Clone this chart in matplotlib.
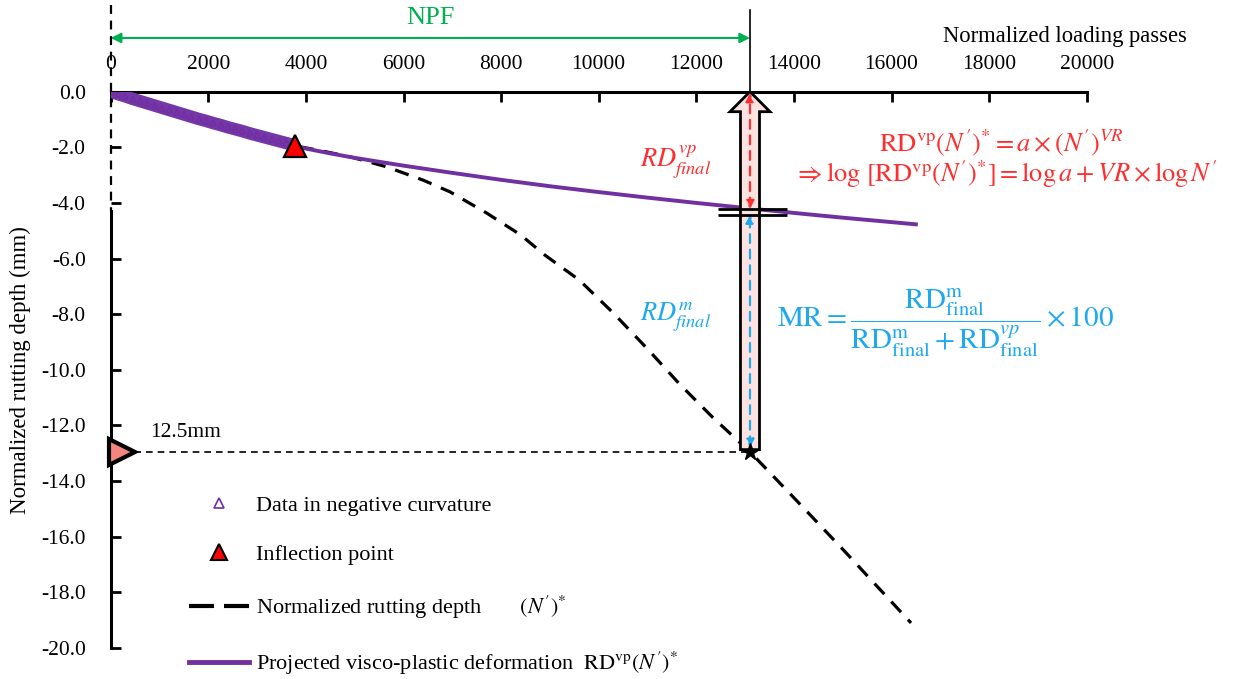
import matplotlib
matplotlib.use('Agg')
import matplotlib.pyplot as plt
import matplotlib.transforms as mtransforms
from matplotlib.patches import FancyArrow
from matplotlib.lines import Line2D
import numpy as np

plt.rcParams['font.family'] = ['Liberation Serif', 'DejaVu Serif']
plt.rcParams['mathtext.fontset'] = 'stix'

# data in negative curvature (normalized passes, rutting depth mm)
data_n = [0, 150, 300, 450, 600, 750, 900, 1050, 1200, 1350, 1500, 1650, 1800,
          1950, 2100, 2250, 2400, 2550, 2700, 2850, 3000, 3150, 3300, 3450, 3600, 3750]
data_rd = [0.00, -0.09, -0.17, -0.26, -0.34, -0.42, -0.50, -0.58, -0.66, -0.74,
           -0.82, -0.90, -0.98, -1.05, -1.13, -1.20, -1.28, -1.35, -1.42, -1.50,
           -1.57, -1.64, -1.71, -1.78, -1.85, -1.92]

# inflection point
infl_n = 3780
infl_rd = -1.95

# normalized rutting depth curve
rut_n = [0, 1000, 2000, 3000, 3780, 4300, 4900, 5650, 6400, 6950, 7700, 8400,
         8900, 9600, 10300, 11000, 11650, 12330, 13100, 14000, 15000, 16400]
rut_rd = [0.00, -0.55, -1.08, -1.57, -1.95, -2.12, -2.34, -2.70, -3.18, -3.60,
          -4.36, -5.15, -5.88, -6.77, -7.96, -9.25, -10.50, -11.70, -12.95,
          -14.60, -16.45, -19.10]

# projected visco-plastic deformation
vp_n = [3780, 4500, 5000, 6000, 7000, 8000, 9000, 10000, 11000, 12000, 13100,
        14000, 15000, 16500]
vp_rd = [-1.97, -2.22, -2.38, -2.66, -2.92, -3.17, -3.40, -3.61, -3.81, -4.00,
         -4.20, -4.36, -4.53, -4.77]

npf = 13100
rd_fail = -12.95
rd_vp_final = -4.22

purple = '#7030a0'
red = '#ff2d2d'
blue = '#1ea8f0'
green = '#00b050'

fig = plt.figure(figsize=(12.36, 6.79), dpi=100)
ax = fig.add_axes([0.0896, 0.0457, 0.7896, 0.8193])

ax.set_xlim(0, 20000)
ax.set_ylim(-20, 0)
ax.set_xticks(np.arange(0, 20001, 2000))
ax.set_yticks(np.arange(-20, 0.1, 2))
ax.yaxis.set_major_formatter(matplotlib.ticker.FormatStrFormatter('%.1f'))
ax.xaxis.tick_top()
ax.tick_params(axis='x', direction='in', length=7, width=2, pad=13, labelsize=15.5)
ax.tick_params(axis='y', direction='in', length=7, width=2, pad=18, labelsize=15.5)
for s in ['right', 'bottom']:
    ax.spines[s].set_visible(False)
ax.spines['top'].set_linewidth(2.2)
ax.spines['left'].set_linewidth(2.2)
ax.spines['left'].set_bounds(-20, -4.3)

ax.set_ylabel('Normalized rutting depth (mm)', fontsize=16.5)
ax.yaxis.set_label_coords(-0.082, 0.5)

# dashed line along the y axis, going above the plot
ax.plot([0, 0], [3.1, -4.3], color='black', lw=1.6, ls=(0, (4, 3)), clip_on=False, zorder=5)

# curves
ax.plot(rut_n, rut_rd, color='black', lw=2.3, dashes=(4.5, 3.2), zorder=2)
ax.plot(data_n, data_rd, color='#7436a8', lw=9, solid_capstyle='butt', zorder=3)
ax.plot(data_n, data_rd, ls='none', marker='^', ms=5, mfc='none', mec=purple, mew=1.2, zorder=3)
ax.plot(vp_n, vp_rd, color=purple, lw=2.8, zorder=3)
ax.plot(infl_n, infl_rd, marker='^', ms=16, mfc='red', mec='black', mew=1.6, zorder=6)

# failure level
ax.plot([0, npf], [rd_fail, rd_fail], color='black', lw=1.2, ls=(0, (4, 3)), zorder=3)
shifted = mtransforms.offset_copy(ax.transData, fig=fig, x=8, y=0, units='points')
ax.plot(0, rd_fail, marker='>', ms=19, mfc='#f4857f', mec='black', mew=3,
        transform=shifted, clip_on=False, zorder=7)
ax.text(800, -12.25, '12.5mm', fontsize=15.5, ha='left', va='center')

# block arrow
ax.add_patch(FancyArrow(npf, rd_fail + 0.08, 0, -rd_fail - 0.08, width=390, head_width=820,
                        head_length=0.72, length_includes_head=True, fc='#fde2e2',
                        ec='black', lw=2, zorder=4))
ax.annotate('', xy=(npf, -0.05), xytext=(npf, rd_vp_final),
            arrowprops=dict(arrowstyle='<|-|>', color=red, lw=1.6, ls=(0, (4, 3)),
                            mutation_scale=12, shrinkA=0, shrinkB=0), zorder=5)
ax.annotate('', xy=(npf, -4.42), xytext=(npf, rd_fail + 0.15),
            arrowprops=dict(arrowstyle='<|-|>', color=blue, lw=1.6, ls=(0, (4, 3)),
                            mutation_scale=12, shrinkA=0, shrinkB=0), zorder=5)
ax.hlines([rd_vp_final, -4.42], 12450, 13850, color='black', lw=2, zorder=6)
ax.plot(npf, rd_fail, marker='*', ms=13, color='black', zorder=7)

# labels near the arrow
ax.text(11580, -2.5, r'$RD^{vp}_{final}$', color=red, fontsize=19, ha='center', va='center')
ax.text(11580, -8.1, r'$RD^{m}_{final}$', color=blue, fontsize=19, ha='center', va='center')

ax.text(18250, -1.85, r"$\mathrm{RD}^{\mathrm{vp}}(N')^{*} = a \times (N')^{VR}$",
        color=red, fontsize=19, ha='center', va='center', clip_on=False)
ax.text(18350, -2.97, r"$\Rightarrow \log\,[\mathrm{RD}^{\mathrm{vp}}(N')^{*}] = \log a + VR \times \log N'$",
        color=red, fontsize=19, ha='center', va='center', clip_on=False)
ax.text(13650, -8.3,
        r"$\mathrm{MR} = \dfrac{\mathrm{RD}^{\mathrm{m}}_{\mathrm{final}}}"
        r"{\mathrm{RD}^{\mathrm{m}}_{\mathrm{final}} + \mathrm{RD}^{vp}_{\mathrm{final}}} \times 100$",
        color=blue, fontsize=21, ha='left', va='center', clip_on=False)

# top annotations
ax.plot([npf, npf], [2.94, 0], color='black', lw=1.2, clip_on=False)
ax.annotate('', xy=(0, 1.93), xytext=(npf, 1.93), annotation_clip=False,
            arrowprops=dict(arrowstyle='<|-|>', color=green, lw=1.5, mutation_scale=15,
                            shrinkA=0, shrinkB=0))
ax.text(npf / 2, 2.65, 'NPF', color=green, fontsize=19, ha='center', va='center', clip_on=False)
ax.text(17050, 2.0, 'Normalized loading passes', fontsize=16.3, ha='left', va='center', clip_on=False)

handles = [
    Line2D([], [], ls='none', marker='^', ms=7, mfc='none', mec=purple, mew=1.2),
    Line2D([], [], ls='none', marker='^', ms=11, mfc='red', mec='black', mew=1.5),
    Line2D([], [], color='black', lw=3, dashes=(6, 2.4)),
    Line2D([], [], color=purple, lw=3.5),
]
labels = [
    'Data in negative curvature',
    'Inflection point',
    "Normalized rutting depth       $(N')^{*}$",
    r"Projected visco-plastic deformation  $\mathrm{RD}^{\mathrm{vp}}(N')^{*}$",
]
fig.legend(handles, labels, loc='upper left', bbox_to_anchor=(0.153, 0.271),
           frameon=False, fontsize=16, handlelength=2.7, handletextpad=0.3,
           labelspacing=1.3, borderpad=0, borderaxespad=0)

fig.savefig('out.png', dpi=100)
